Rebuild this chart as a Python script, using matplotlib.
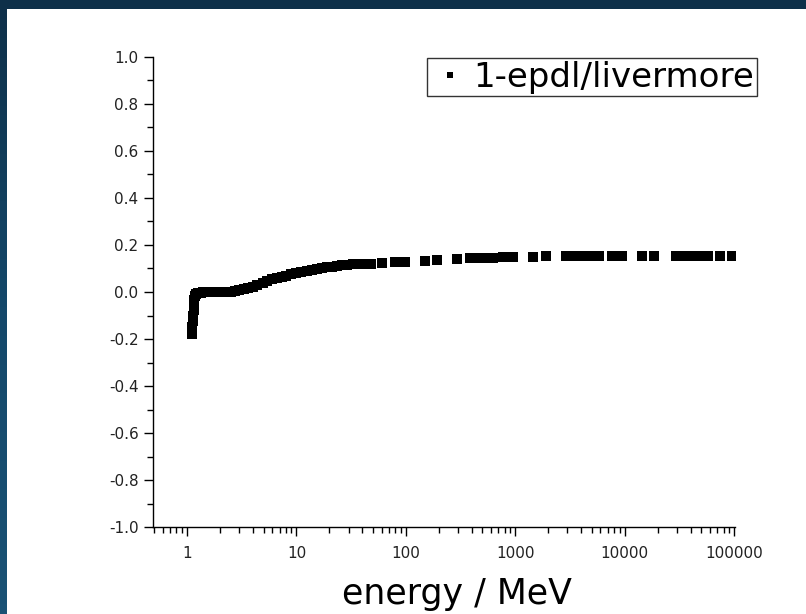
import matplotlib
matplotlib.use('Agg')
import matplotlib.pyplot as plt
import numpy as np
from matplotlib.patches import Rectangle
from matplotlib.colors import LinearSegmentedColormap
from matplotlib.ticker import (MultipleLocator, FixedLocator, FixedFormatter,
                               LogLocator, NullFormatter, FormatStrFormatter)

plt.rcParams['font.family'] = ['DejaVu Sans']
plt.rcParams['axes.unicode_minus'] = False

# energy grid (MeV) and 1 - epdl/livermore ratio
energy = [1.10, 1.12, 1.13, 1.14, 1.15, 1.16, 1.17, 1.19, 1.22, 1.26, 1.30, 1.35,
          1.40, 1.46, 1.52, 1.60, 1.70, 1.80, 1.90, 2.0, 2.15, 2.3, 2.5, 2.75,
          3.0, 3.3, 3.6, 4.0, 4.4, 4.9, 5.4, 6.0, 6.6, 7.3, 8.0, 9.0, 10, 11,
          12.5, 14, 15.5, 17, 19, 21, 23.5, 26, 29, 33, 40, 48, 60, 80, 99,
          151, 194, 294, 386, 475, 550, 624, 769, 946, 1438, 1928, 2925, 3608,
          4265, 5040, 5835, 7650, 9430, 14300, 18400, 29200, 36600, 43400,
          50200, 58100, 74600, 95000]
ratio = [-0.178, -0.150, -0.125, -0.100, -0.075, -0.050, -0.032, -0.018, -0.010,
         -0.006, -0.004, -0.003, -0.002, -0.001, 0.000, 0.000, 0.000, 0.000,
         0.000, 0.000, 0.000, 0.001, 0.002, 0.004, 0.007, 0.011, 0.016, 0.023,
         0.031, 0.040, 0.047, 0.054, 0.059, 0.064, 0.069, 0.075, 0.081, 0.086,
         0.091, 0.095, 0.099, 0.102, 0.105, 0.108, 0.111, 0.113, 0.115, 0.117,
         0.119, 0.121, 0.123, 0.126, 0.129, 0.133, 0.136, 0.141, 0.144, 0.145,
         0.146, 0.146, 0.147, 0.148, 0.150, 0.151, 0.153, 0.153, 0.153, 0.153,
         0.153, 0.153, 0.154, 0.154, 0.154, 0.154, 0.155, 0.155, 0.155, 0.155,
         0.155, 0.155]

xticks = [1, 10, 100, 1000, 10000, 100000]
xticklabels = ['1', '10', '100', '1000', '10000', '100000']

fig = plt.figure(figsize=(8.06, 6.14), dpi=100)
fig.patch.set_facecolor('white')

# dark frame of the slide: plain strip on top, gradient strip on the left
fig.patches.append(Rectangle((0, 1 - 9 / 614), 1, 9 / 614, transform=fig.transFigure,
                             facecolor='#0e3049', edgecolor='none', zorder=0))
strip = fig.add_axes([0, 0, 7 / 806, 1])
strip.axis('off')
cmap = LinearSegmentedColormap.from_list('slide', ['#1a5275', '#14486a', '#0e3049'])
strip.imshow(np.linspace(0, 1, 64).reshape(-1, 1), aspect='auto', cmap=cmap,
             origin='lower', extent=(0, 1, 0, 1))

ax = fig.add_axes([0.190, 0.1412, 0.722, 0.7665])
ax.plot(energy, ratio, 's', color='black', markersize=6.5, markeredgewidth=0,
        label='1-epdl/livermore')

ax.set_xscale('log')
ax.set_xlim(0.49, 1.02e5)
ax.set_ylim(-1.0, 1.0)

ax.xaxis.set_major_locator(FixedLocator(xticks))
ax.xaxis.set_major_formatter(FixedFormatter(xticklabels))
ax.xaxis.set_minor_locator(LogLocator(base=10, subs=range(2, 10)))
ax.xaxis.set_minor_formatter(NullFormatter())
ax.yaxis.set_major_locator(MultipleLocator(0.2))
ax.yaxis.set_minor_locator(MultipleLocator(0.1))
ax.yaxis.set_major_formatter(FormatStrFormatter('%.1f'))

for s in ['top', 'right']:
    ax.spines[s].set_visible(False)
for s in ['left', 'bottom']:
    ax.spines[s].set_linewidth(1.0)
ax.tick_params(which='major', direction='out', length=6.5, width=1.0,
               labelsize=11, colors='black', labelcolor='#222222', pad=4)
ax.tick_params(which='minor', direction='out', length=4.3, width=1.0)
ax.tick_params(axis='x', which='major', pad=7)

ax.set_xlabel('energy / MeV', fontsize=25, va='top')
ax.xaxis.set_label_coords(0.522, -0.1060)

leg = ax.legend(loc='upper right', bbox_to_anchor=(1.0378, 0.9973), fontsize=24.5,
                frameon=True, fancybox=False, markerscale=0.7, handletextpad=0.1,
                handlelength=1.2, borderpad=0.08, borderaxespad=0)
leg.get_frame().set_edgecolor('black')
leg.get_frame().set_linewidth(1.0)

fig.savefig('out.png', dpi=100, facecolor='white')
